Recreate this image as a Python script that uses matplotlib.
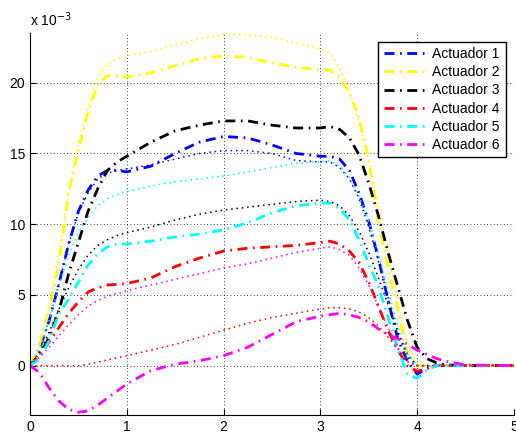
import matplotlib
matplotlib.use("Agg")
import matplotlib.pyplot as plt

plt.rcParams['font.family'] = ['Liberation Sans', 'DejaVu Sans']

# time axis (s)
t = [0, 0.1, 0.2, 0.3, 0.4, 0.5, 0.6, 0.7, 0.8, 0.9, 1.0, 1.25, 1.5, 1.75,
     2.0, 2.25, 2.5, 2.75, 3.0, 3.1, 3.2, 3.3, 3.4, 3.5, 3.6, 3.7, 3.8, 3.9,
     4.0, 4.1, 4.2, 4.3, 4.5, 5.0]

# measured actuator values (x 1e-3)
act1 = [0, 1.2, 3.2, 5.8, 8.6, 10.9, 12.4, 13.4, 13.8, 13.8, 13.7, 14.1, 15.0, 15.8,
        16.2, 16.1, 15.6, 15.0, 14.8, 14.8, 14.6, 13.8, 12.2, 10.2, 7.6, 4.6, 1.9, 0.3,
        -0.6, -0.2, 0, 0, 0, 0]
act2 = [0, 1.5, 4.0, 7.2, 12.2, 15.2, 17.9, 19.8, 20.5, 20.5, 20.4, 20.7, 21.2, 21.7,
        21.9, 21.8, 21.4, 21.1, 20.9, 20.9, 20.4, 19.3, 17.5, 14.6, 10.2, 6.9, 4.0, 0.8,
        0, 0, 0, 0, 0, 0]
act3 = [0, 0.8, 2.0, 3.9, 6.5, 8.7, 10.9, 12.5, 13.8, 14.4, 14.8, 15.8, 16.6, 17.0,
        17.3, 17.3, 17.0, 16.8, 16.8, 16.9, 16.7, 16.1, 14.9, 12.9, 10.6, 8.0, 5.6, 3.2,
        1.3, 0.5, 0.2, 0.05, 0, 0]
act4 = [0, 0.7, 1.7, 2.7, 3.7, 4.5, 5.2, 5.5, 5.7, 5.75, 5.8, 6.2, 7.0, 7.6,
        8.1, 8.3, 8.4, 8.5, 8.7, 8.8, 8.6, 8.1, 7.3, 5.9, 4.2, 2.5, 1.1, 0.0,
        -0.4, -0.2, 0, 0, 0, 0]
act5 = [0, 0.5, 1.8, 3.7, 4.7, 5.9, 7.1, 7.9, 8.4, 8.6, 8.6, 8.8, 9.1, 9.3,
        9.6, 10.1, 10.8, 11.3, 11.5, 11.5, 11.1, 10.3, 8.9, 7.2, 5.6, 3.4, 1.2, -0.6,
        -0.9, -0.3, 0, 0, 0, 0]
act6 = [0, -0.5, -1.6, -2.5, -3.1, -3.3, -3.2, -2.8, -2.3, -1.8, -1.3, -0.35, 0.1, 0.35,
        0.7, 1.3, 2.2, 3.1, 3.5, 3.6, 3.7, 3.6, 3.4, 3.1, 2.6, 2.2, 1.9, 1.5,
        1.1, 0.8, 0.5, 0.3, 0.05, 0]

# reference values (x 1e-3)
ref1 = [0, 1.2, 3.2, 5.8, 8.6, 10.8, 12.2, 13.2, 13.6, 13.8, 13.9, 14.2, 14.6, 15.0,
        15.2, 15.2, 15.0, 14.5, 14.4, 14.4, 14.0, 13.2, 11.8, 9.8, 7.4, 4.8, 2.4, 0.6,
        0, 0, 0, 0, 0, 0]
ref2 = [0, 1.5, 4.3, 8.0, 12.3, 15.8, 18.2, 20.5, 21.3, 21.7, 21.9, 22.2, 22.7, 23.1,
        23.4, 23.4, 23.2, 22.8, 22.4, 22.1, 21.0, 19.4, 17.2, 14.4, 11.3, 7.9, 4.6, 1.6,
        0, 0, 0, 0, 0, 0]
ref3 = [0, 0.9, 2.4, 4.0, 5.5, 6.8, 7.8, 8.5, 8.9, 9.2, 9.4, 9.8, 10.3, 10.7,
        11.0, 11.2, 11.4, 11.6, 11.7, 11.6, 11.3, 10.6, 9.5, 8.0, 6.2, 4.3, 2.4, 0.8,
        0, 0, 0, 0, 0, 0]
ref4 = [0, 0, 0, 0, 0, 0, 0.1, 0.25, 0.4, 0.55, 0.7, 1.1, 1.5, 2.0,
        2.5, 3.0, 3.4, 3.7, 4.0, 4.1, 4.1, 4.0, 3.8, 3.4, 2.8, 2.0, 1.2, 0.3,
        0, 0, 0, 0, 0, 0]
ref5 = [0, 1.2, 3.2, 5.6, 7.8, 9.4, 10.5, 11.3, 11.8, 12.1, 12.3, 12.7, 13.0, 13.2,
        13.4, 13.7, 14.0, 14.3, 14.4, 14.5, 14.1, 13.3, 12.0, 10.2, 7.9, 5.3, 2.8, 0.8,
        0, 0, 0, 0, 0, 0]
ref6 = [0, 0.6, 1.3, 2.1, 2.9, 3.6, 4.2, 4.6, 4.9, 5.1, 5.3, 5.7, 6.1, 6.5,
        6.9, 7.2, 7.6, 8.0, 8.3, 8.4, 8.2, 7.8, 6.9, 5.7, 4.2, 2.7, 1.3, 0.3,
        0, 0, 0, 0, 0, 0]

labels = ['Actuador 1', 'Actuador 2', 'Actuador 3', 'Actuador 4', 'Actuador 5', 'Actuador 6']
colors = ['#0000ff', '#ffff00', '#000000', '#ff0000', '#00ffff', '#ff00ff']
acts = [act1, act2, act3, act4, act5, act6]
refs = [ref1, ref2, ref3, ref4, ref5, ref6]

fig = plt.figure(figsize=(5.16, 4.37), dpi=100)
ax = fig.add_axes([0.058, 0.050, 0.938, 0.874])

handles = []
for a, r, c, lab in zip(acts, refs, colors, labels):
    ax.plot(t, r, color=c, lw=1.1, linestyle=(0, (1, 2.5)))
    h, = ax.plot(t, a, color=c, lw=2.0, linestyle=(0, (3.6, 2.0, 0.6, 2.0)), label=lab)
    handles.append(h)

ax.set_xlim(0, 5)
ax.set_ylim(-3.5, 23.5)
ax.set_xticks([0, 1, 2, 3, 4, 5])
ax.set_yticks([0, 5, 10, 15, 20])
ax.grid(True, color='black', linestyle=(0, (1, 3)), linewidth=0.6)
ax.tick_params(direction='in', labelsize=10, length=4)
ax.spines['top'].set_visible(False)
ax.spines['right'].set_visible(False)

ax.text(0, 1.012, r'x 10$^{-3}$', transform=ax.transAxes, ha='left', va='bottom', fontsize=10)

leg = ax.legend(handles=handles, loc='upper right', fontsize=10, handlelength=3,
                labelspacing=0.3, borderaxespad=0.6, fancybox=False, framealpha=1,
                edgecolor='black', handletextpad=0.5, borderpad=0.4)
leg.get_frame().set_linewidth(1.0)

fig.savefig('out.png', dpi=100)
